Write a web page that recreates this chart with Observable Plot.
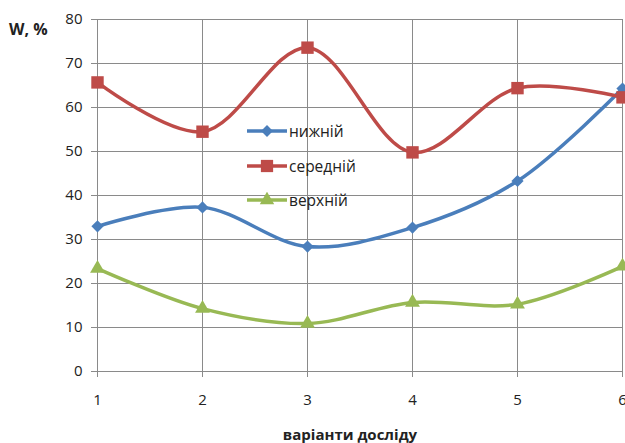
<!DOCTYPE html>
<html><head><meta charset="utf-8">
<script src="https://cdn.jsdelivr.net/npm/d3@7"></script>
<script src="https://cdn.jsdelivr.net/npm/@observablehq/plot@0.6"></script>
<style>
body{margin:0;background:#fff;}
#wrap{position:relative;width:625px;height:443px;font-family:"Open Sans",sans-serif;}
#ylab{position:absolute;left:9px;top:18px;font-weight:bold;font-size:16px;color:#222;}
#xlab{position:absolute;left:0;width:700px;text-align:center;top:424px;font-weight:bold;font-size:15px;color:#222;}
#legend{position:absolute;left:246px;top:114px;font-size:15.5px;color:#222;}
#legend .row{height:34.5px;display:flex;align-items:center;}
#legend svg{margin-right:1px;}
</style></head>
<body><div id="wrap"><div id="ylab"></div><div id="xlab"></div><div id="legend"></div></div>
<script>
const variants = [1, 2, 3, 4, 5, 6];
const lower  = [33.0, 37.3, 28.4, 32.7, 43.3, 64.3];
const middle = [65.7, 54.5, 73.6, 49.8, 64.4, 62.3];
const upper  = [23.4, 14.3, 10.9, 15.7, 15.3, 23.9];
const seriesNames = ["нижній", "середній", "верхній"];
const seriesColors = ["#4a7ebb", "#be4b48", "#98b954"];
const seriesSymbols = ["diamond2", "square", "triangle"];
const yTicks = [0, 10, 20, 30, 40, 50, 60, 70, 80];
const yLabel = "W, %";
const xLabel = "варіанти  досліду";

const seriesValues = [lower, middle, upper];
const data = [];
seriesValues.forEach((vals, i) => vals.forEach((v, j) => data.push({x: variants[j], y: v, s: seriesNames[i]})));

const marks = [
  Plot.gridY(yTicks, {stroke: "#8a8a8a", strokeOpacity: 1}),
  Plot.gridX(variants, {stroke: "#8a8a8a", strokeOpacity: 1}),
  Plot.frame({stroke: "#8a8a8a"}),
  Plot.axisY({ticks: yTicks, tickFormat: "d", tickSize: 6, tickPadding: 9, fontSize: 15, stroke: "#8a8a8a", color: "#222", label: null}),
  Plot.axisX({ticks: variants, tickFormat: "d", tickSize: 6, tickPadding: 17, fontSize: 15, stroke: "#8a8a8a", color: "#222", label: null}),
];
seriesNames.forEach((name, i) => {
  const d = data.filter(r => r.s === name);
  marks.push(Plot.line(d, {x: "x", y: "y", stroke: seriesColors[i], strokeWidth: 3.5, curve: "catmull-rom"}));
  marks.push(Plot.dot(d, {x: "x", y: "y", symbol: () => seriesSymbols[i], fill: seriesColors[i], stroke: "none", r: i === 1 ? 7 : 5.5}));
});

const chart = Plot.plot({
  width: 625, height: 443,
  marginLeft: 97, marginRight: 3, marginTop: 19, marginBottom: 72,
  x: {domain: [1, 6]},
  y: {domain: [0, 80]},
  style: {fontFamily: "'Open Sans', sans-serif", background: "#fff"},
  marks
});
document.getElementById("wrap").prepend(chart);
chart.style.position = "absolute"; chart.style.left = "0"; chart.style.top = "0";
document.getElementById("ylab").textContent = yLabel;
document.getElementById("xlab").textContent = xLabel;

const leg = document.getElementById("legend");
seriesNames.forEach((name, i) => {
  const row = document.createElement("div"); row.className = "row";
  const sw = d3.create("svg").attr("width", 42).attr("height", 16);
  sw.append("line").attr("x1", 1).attr("x2", 41).attr("y1", 8).attr("y2", 8).attr("stroke", seriesColors[i]).attr("stroke-width", 3.5);
  const sym = {diamond2: d3.symbolDiamond2, square: d3.symbolSquare, triangle: d3.symbolTriangle}[seriesSymbols[i]];
  sw.append("path").attr("transform", "translate(21,8)").attr("d", d3.symbol(sym, i === 1 ? 150 : 90)()).attr("fill", seriesColors[i]);
  row.appendChild(sw.node());
  const t = document.createElement("span"); t.textContent = name; row.appendChild(t);
  leg.appendChild(row);
});
</script></body></html>
